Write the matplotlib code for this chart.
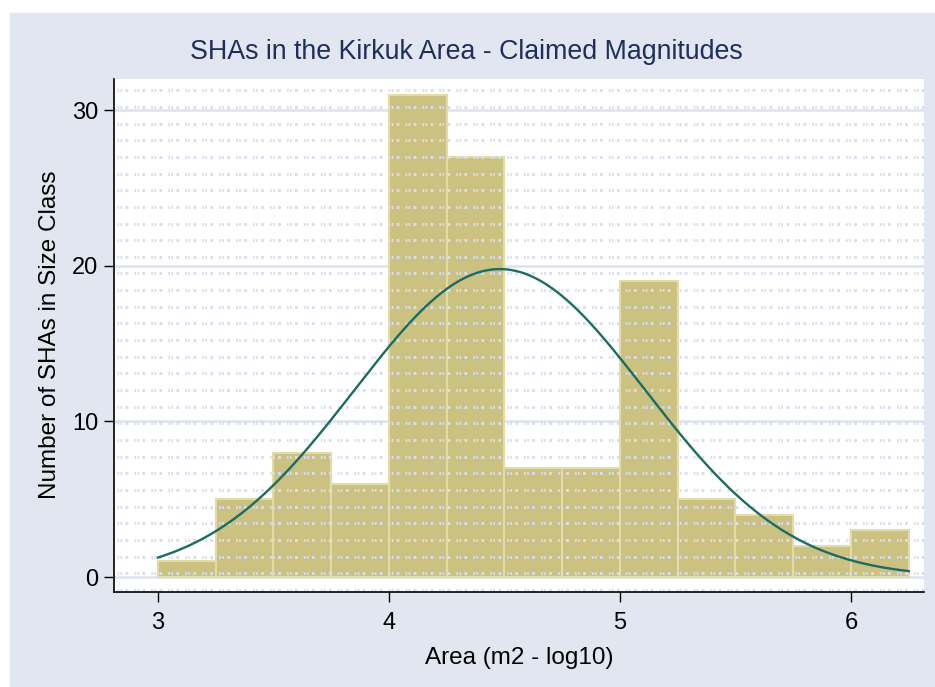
import matplotlib.pyplot as plt
import numpy as np
from matplotlib.patches import Rectangle

plt.rcParams['font.family'] = ['Liberation Sans', 'DejaVu Sans']
plt.rcParams['lines.scale_dashes'] = False

# histogram of claimed magnitudes (log10 area), bin width 0.25
bin_left = [3.0, 3.25, 3.5, 3.75, 4.0, 4.25, 4.5, 4.75, 5.0, 5.25, 5.5, 5.75, 6.0]
counts = [1, 5, 8, 6, 31, 27, 7, 7, 19, 5, 4, 2, 3]
bin_width = 0.25
# fitted normal overlay
fit_mean = 4.48
fit_sd = 0.63
x_ticks = [3, 4, 5, 6]
y_ticks = [0, 10, 20, 30]

bg = '#e2e6f0'
bar_fill = '#cbc181'
bar_edge = '#e3dca6'
curve_col = '#1c6c63'
title_col = '#1f2f5c'

fig = plt.figure(figsize=(9.35, 6.87), dpi=100)
fig.patches.append(Rectangle((10 / 935, 0), 1, 1 - 13 / 687, transform=fig.transFigure,
                             color=bg, zorder=-1))
ax = fig.add_axes([114 / 935, 1 - 592 / 687, 810 / 935, 513 / 687])
ax.set_facecolor('white')

ax.bar(bin_left, counts, width=bin_width, align='edge', color=bar_fill,
       edgecolor=bar_edge, linewidth=1.5, zorder=2)

# normal density scaled to counts
n = sum(counts)
xs = np.linspace(bin_left[0], bin_left[-1] + bin_width, 300)
ys = n * bin_width * np.exp(-0.5 * ((xs - fit_mean) / fit_sd) ** 2) / (fit_sd * np.sqrt(2 * np.pi))
ax.plot(xs, ys, color=curve_col, linewidth=1.7, zorder=4)

ax.set_xlim(2.81, 6.316)
ax.set_ylim(-0.96, 32.0)

# major grid behind bars
for yt in y_ticks:
    ax.axhline(yt, color='#dde2ee', linewidth=1.8, zorder=1)

# dotted background texture, on top of the bars
for fy in np.linspace(0.004, 0.978, 31):
    ax.plot([0.004, 1], [fy, fy], transform=ax.transAxes, color='#dadeec',
            linewidth=2.2, linestyle=(0, (1.2, 1.0, 1.2, 2.4, 2.0, 4.4)),
            solid_capstyle='butt', zorder=3)

ax.set_xticks(x_ticks)
ax.set_yticks(y_ticks)
ax.tick_params(axis='both', labelsize=17, length=7.5, width=1, color='black')
ax.tick_params(axis='x', pad=7)
ax.tick_params(axis='y', pad=4)
for s in ['top', 'right']:
    ax.spines[s].set_visible(False)
for s in ['left', 'bottom']:
    ax.spines[s].set_linewidth(1.2)
    ax.spines[s].set_zorder(5)

fig.text(466 / 935, 1 - 52 / 687, 'SHAs in the Kirkuk Area - Claimed Magnitudes',
         ha='center', va='center', fontsize=19.3, color=title_col)
fig.text(519 / 935, 1 - 658 / 687, 'Area (m2 - log10)', ha='center', va='center', fontsize=17.5)
fig.text(50 / 935, 1 - 335 / 687, 'Number of SHAs in Size Class', ha='center', va='center',
         rotation=90, fontsize=17.5)

fig.savefig('out.png', dpi=100)
